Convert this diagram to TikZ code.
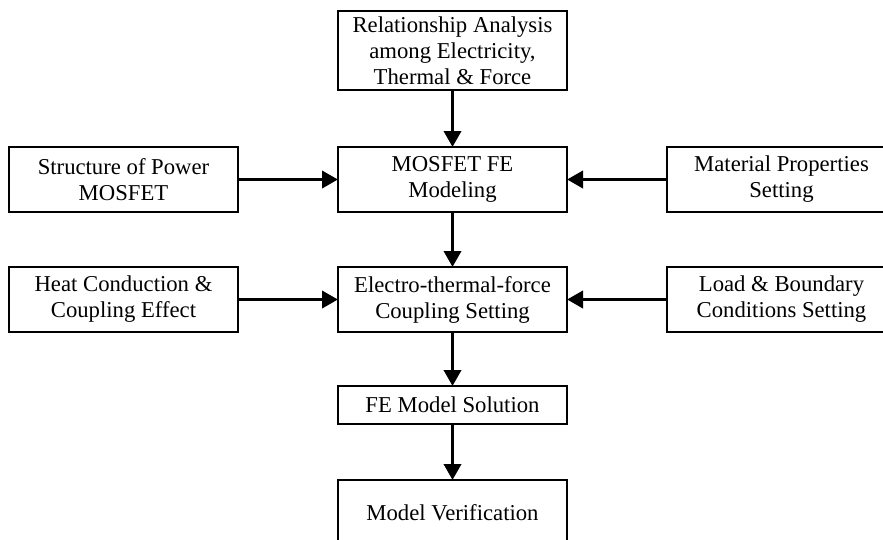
\documentclass[tikz,border=0pt]{standalone}
\usepackage{fontspec}
\setmainfont{Liberation Serif}
\usetikzlibrary{arrows.meta}
\begin{document}
\begin{tikzpicture}[x=1pt,y=-1pt,
  box/.style={draw=black,line width=1.4pt,fill=white,inner sep=0pt,outer sep=0pt,
    align=center,font=\fontsize{22.7}{26}\selectfont,minimum width=229pt},
  conn/.style={line width=3.6pt,-{Triangle[length=16pt,width=17pt]}}]
\useasboundingbox (0,0) rectangle (883,539);
\clip (0,0) rectangle (883,539);
\node[box,minimum height=79pt] (rel) at (452.5,50.5) {Relationship Analysis\\among Electricity,\\Thermal \& Force};
\node[box,minimum height=65pt] (mod) at (452.5,179.5) {MOSFET FE\\Modeling};
\node[box,minimum height=65pt] (str) at (123.5,179.5) {Structure of Power\\MOSFET};
\node[box,minimum height=65pt] (mat) at (781.5,179.5) {Material Properties\\Setting};
\node[box,minimum height=65pt] (cpl) at (452.5,299.5) {Electro-thermal-force\\Coupling Setting};
\node[box,minimum height=65pt] (heat) at (123.5,299.5) {Heat Conduction \&\\Coupling Effect};
\node[box,minimum height=65pt] (load) at (781.5,299.5) {Load \& Boundary\\Conditions Setting};
\node[box,minimum height=38pt] (sol) at (452.5,405) {FE Model Solution};
\node[box,minimum height=66pt] (ver) at (452.5,513) {Model Verification};
\draw[conn] (rel) -- (mod);
\draw[conn] (str) -- (mod);
\draw[conn] (mat) -- (mod);
\draw[conn] (mod) -- (cpl);
\draw[conn] (heat) -- (cpl);
\draw[conn] (load) -- (cpl);
\draw[conn] (cpl) -- (sol);
\draw[conn] (sol) -- (ver);
\end{tikzpicture}
\end{document}
